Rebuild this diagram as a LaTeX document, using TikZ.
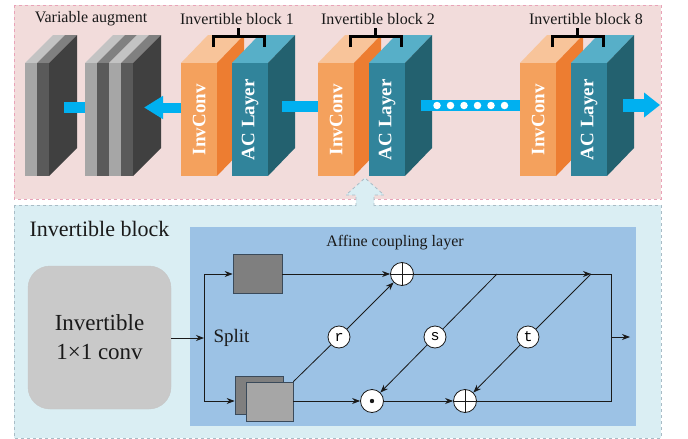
\documentclass[tikz,border=0pt]{standalone}
\usepackage{fontspec}
\usepackage{graphicx}
\setmainfont{Liberation Serif}
\setmonofont{Liberation Mono}
\usetikzlibrary{arrows.meta}
\definecolor{pinkbg}{HTML}{F2DCDB}
\definecolor{pinkbd}{HTML}{E9A3B8}
\definecolor{bluebg}{HTML}{DAEEF3}
\definecolor{bluebd}{HTML}{A9BCC6}
\definecolor{innerblue}{HTML}{9CC2E5}
\definecolor{orfront}{HTML}{F4A15D}
\definecolor{ortop}{HTML}{F8C49A}
\definecolor{orside}{HTML}{ED7D31}
\definecolor{acfront}{HTML}{31849B}
\definecolor{actop}{HTML}{57AFC8}
\definecolor{acside}{HTML}{23616F}
\definecolor{gLight}{HTML}{A6A6A6}
\definecolor{gLightTop}{HTML}{C3C3C3}
\definecolor{gMid}{HTML}{5A5A5A}
\definecolor{gMidTop}{HTML}{808080}
\definecolor{gSide}{HTML}{404040}
\definecolor{gDark}{HTML}{7F7F7F}
\definecolor{convgray}{HTML}{C9C9C9}
\definecolor{arrowblue}{HTML}{00B0F0}
\definecolor{lineblk}{HTML}{1A1A1A}
\definecolor{boxbd}{HTML}{3A4A5A}
\tikzset{
  blockface/.style={minimum width=36pt, minimum height=113pt, inner sep=0pt, text=white,
     font=\fontsize{19}{22}\selectfont\bfseries},
  bar/.style={line width=11pt, arrowblue},
  blarrow/.style={line width=10pt, arrowblue, -{Triangle[length=19pt,width=22pt]}},
  toplabel/.style={font=\fontsize{16}{18}\selectfont, text=lineblk},
  bracketline/.style={line width=3pt, black},
  flow/.style={line width=0.8pt, lineblk, -{Stealth[length=8pt,width=6pt]}},
  plain/.style={line width=0.8pt, lineblk},
  opnode/.style={circle, draw=lineblk, line width=0.8pt, fill=white, minimum size=23pt, inner sep=0pt},
  fnnode/.style={circle, draw=lineblk, line width=0.8pt, fill=white, minimum size=22pt, inner sep=0pt,
     font=\fontsize{15}{15}\selectfont\ttfamily},
  dot/.style={circle, fill=white, minimum size=7.5pt, inner sep=0pt},
  sqbox/.style={draw=boxbd, line width=0.7pt, inner sep=0pt},
}
\newcommand{\cubeblk}[6]{%
  \fill[#4] (#2,63) -- ++(27,-28) -- ++(36,0) -- ++(-27,28) -- cycle;
  \fill[#5] (#2+36,63) -- ++(27,-28) -- ++(0,113) -- ++(-27,28) -- cycle;
  \node[blockface, fill=#3, anchor=north west] (#1) at (#2,63) {\rotatebox{90}{#6}};
}
\newcommand{\gstrip}[3]{%
  \fill[#3] (#1,63) -- (#2,63) -- (#2+28,35) -- (#1+28,35) -- cycle;
}
\newcommand{\blkbracket}[2]{%
  \draw[bracketline] (#1+32,47) -- (#1+32,36) -- (#2+32,36) -- (#2+32,47);
  \draw[bracketline] ({(#1+#2)/2+32},36) -- ({(#1+#2)/2+32},28);
}
\begin{document}
\begin{tikzpicture}[x=1pt,y=-1pt]
\useasboundingbox (0,0) rectangle (688,439);
% panels
\draw[fill=pinkbg, draw=pinkbd, dashed, line width=0.8pt] (14,5) rectangle (661,199);
\draw[fill=bluebg, draw=bluebd, dashed, line width=0.8pt] (14,205) rectangle (661,438);
\fill[innerblue] (190,227) rectangle (636,426);

% up arrow
\fill[bluebg] (356,208) -- (356,195) -- (346,195) -- (365,178) -- (384,195) -- (374,195) -- (374,208) -- cycle;
\draw[bluebd, dashed, line width=0.8pt] (356,206) -- (356,195) -- (346,195) -- (365,178) -- (384,195) -- (374,195) -- (374,206);

% labels top
\node[toplabel] (lva) at (91,19) {Variable augment};
\node[toplabel] (lb1) at (237,19) {Invertible block 1};
\node[toplabel] (lb2) at (378,19) {Invertible block 2};
\node[toplabel] (lb8) at (586,19) {Invertible block 8};

% gray block A
\gstrip{25}{37}{gLightTop}
\gstrip{37}{49}{gMidTop}
\fill[gSide] (49,63) -- (77,35) -- (77,148) -- (49,176) -- cycle;
\fill[gLight] (25,63) rectangle (37,176);
\fill[gMid] (37,63) rectangle (49,176);
\node[minimum width=24pt, minimum height=113pt, inner sep=0pt, anchor=north west] (gA) at (25,63) {};
% gray block B
\gstrip{85}{97}{gLightTop}
\gstrip{97}{109}{gMidTop}
\gstrip{109}{121}{gLightTop}
\gstrip{121}{133}{gMidTop}
\fill[gSide] (133,63) -- (161,35) -- (161,148) -- (133,176) -- cycle;
\fill[gLight] (85,63) rectangle (97,176);
\fill[gMid] (97,63) rectangle (109,176);
\fill[gLight] (109,63) rectangle (121,176);
\fill[gMid] (121,63) rectangle (133,176);
\node[minimum width=48pt, minimum height=113pt, inner sep=0pt, anchor=north west] (gB) at (85,63) {};

% invertible blocks
\cubeblk{inv1}{181}{orfront}{ortop}{orside}{InvConv}
\cubeblk{ac1}{232}{acfront}{actop}{acside}{AC Layer}
\cubeblk{inv2}{318}{orfront}{ortop}{orside}{InvConv}
\cubeblk{ac2}{369}{acfront}{actop}{acside}{AC Layer}
\cubeblk{inv8}{520}{orfront}{ortop}{orside}{InvConv}
\cubeblk{ac8}{571}{acfront}{actop}{acside}{AC Layer}
\blkbracket{181}{232}
\blkbracket{318}{369}
\blkbracket{520}{571}

% blue bars and arrows
\coordinate (gAs) at (64,107.5);
\coordinate (ac1s) at (282,106);
\coordinate (ac2s) at (421,105.5);
\coordinate (ac8s) at (623,105);
\coordinate (outR) at (660,105);
\draw[bar] (gAs) -- (gB.west |- gAs);
\draw[blarrow] (inv1.west |- 0,107.5) -- (144,107.5);
\draw[bar] (ac1s) -- (inv2.west |- ac1s);
\draw[bar] (ac2s) -- (inv8.west |- ac2s);
\foreach \i/\xx in {1/437,2/450.5,3/464,4/477.5,5/491,6/504.5}
  \node[dot] (d\i) at (\xx,105.5) {};
\draw[line width=13pt, arrowblue, -{Triangle[length=16pt,width=24pt]}] (ac8s) -- (outR);

% bottom panel
\node[font=\fontsize{22}{24}\selectfont, text=lineblk, anchor=west] (ibl) at (26,229) {Invertible block};
\node[draw=gray!45, fill=convgray, rounded corners=22pt, minimum width=143pt, minimum height=143pt,
      inner sep=0pt, align=center, font=\fontsize{23}{29}\selectfont, text=lineblk] (conv) at (99.5,337.5)
      {Invertible\\1×1 conv};
\node[font=\fontsize{16}{18}\selectfont, text=lineblk] (acl) at (395,243) {Affine coupling layer};
\node[font=\fontsize{19}{21}\selectfont, text=lineblk, anchor=west] (split) at (210,338) {Split};

\node[sqbox, fill=gDark, minimum width=49pt, minimum height=39pt] (tb) at (257.5,273.5) {};
\node[sqbox, fill=gDark, minimum width=48pt, minimum height=38pt] (bb1) at (259,395) {};
\node[sqbox, fill=gLight, minimum width=47pt, minimum height=39pt] (bb2) at (269.5,401.5) {};

\coordinate (sp) at (204,338);
\coordinate (spT) at (204,274);
\coordinate (spB) at (204,401);
\draw[flow] (conv.east |- sp) -- (sp);
\draw[plain] (spT) -- (spB);
\draw[flow] (spT) -- (tb.west |- spT);
\draw[flow] (spB) -- (bb1.west |- spB);

\node[opnode] (op1) at (402,274) {};
\node[opnode] (odt) at (372,401) {};
\node[opnode] (op2) at (465,401) {};
\draw[plain] (op1.north) -- (op1.south) (op1.west) -- (op1.east);
\draw[plain] (op2.north) -- (op2.south) (op2.west) -- (op2.east);
\fill[lineblk] (odt.center) circle (2.2pt);

\node[fnnode] (fr) at (339,337) {r};
\node[fnnode] (fs) at (435,337) {s};
\node[fnnode] (ft) at (528,337) {t};

\coordinate (sTop) at (497,274);
\coordinate (tTop) at (591,274);
\coordinate (cTR) at (611,274);
\coordinate (cBR) at (611,401);
\coordinate (cMid) at (611,337);
\coordinate (outB) at (630,337);

\draw[flow] (tb.east |- op1) -- (op1);
\draw[flow] (op1) -- (tTop);
\draw[plain] (tTop) -- (cTR) -- (cBR) -- (op2);
\draw[flow] (bb2.east |- odt) -- (odt);
\draw[flow] (odt) -- (op2);
\draw[plain] (bb2.north east) -- (fr);
\draw[flow] (fr) -- (op1);
\draw[plain] (sTop) -- (fs);
\draw[flow] (fs) -- (odt);
\draw[plain] (tTop) -- (ft);
\draw[flow] (ft) -- (op2);
\draw[flow] (cMid) -- (outB);
\end{tikzpicture}
\end{document}
